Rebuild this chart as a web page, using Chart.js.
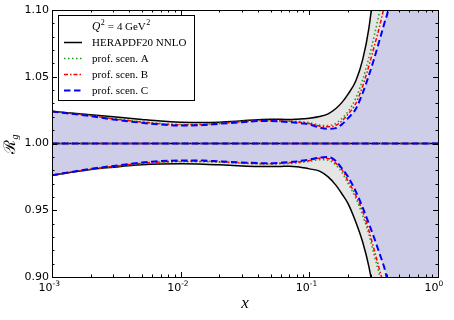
<!DOCTYPE html>
<html>
<head>
<meta charset="utf-8">
<script src="https://cdn.jsdelivr.net/npm/chart.js@4"></script>
<style>
  html, body { margin: 0; padding: 0; background: #fff; }
</style>
</head>
<body>
<canvas id="chart" width="454" height="320"></canvas>
<script>
// x grid shared by all the ratio curves
const xs = [0.001, 0.002, 0.003, 0.005, 0.007, 0.01, 0.015, 0.02, 0.03, 0.04,
  0.05, 0.06, 0.07, 0.08, 0.09, 0.1, 0.12, 0.14, 0.16, 0.18,
  0.2, 0.23, 0.26, 0.29, 0.32, 0.35, 0.38, 0.42, 0.5, 1.0];

// HERAPDF20 NNLO band edges
const heraUp = [1.0242, 1.0215, 1.020, 1.018, 1.0168, 1.016, 1.0157, 1.016, 1.017, 1.0178,
  1.0181, 1.0181, 1.018, 1.0182, 1.0185, 1.0189, 1.0202, 1.0222, 1.026, 1.031,
  1.037, 1.047, 1.063, 1.086, 1.12, 1.16, 1.21, 1.29, 1.5, 3.0];
const heraLo = [0.9762, 0.9805, 0.9822, 0.984, 0.9846, 0.9848, 0.9845, 0.984, 0.9832, 0.9828,
  0.9827, 0.9828, 0.983, 0.9826, 0.9818, 0.981, 0.9793, 0.975, 0.969, 0.962,
  0.955, 0.941, 0.926, 0.908, 0.885, 0.86, 0.83, 0.78, 0.6, -1.0];

// profiled scenarios
const scenAUp = [1.0242, 1.021, 1.0188, 1.0163, 1.015, 1.0143, 1.0145, 1.0153, 1.0165, 1.0172,
  1.0173, 1.0172, 1.017, 1.0166, 1.0162, 1.0156, 1.0138, 1.0135, 1.015, 1.019,
  1.024, 1.034, 1.048, 1.064, 1.081, 1.098, 1.115, 1.15, 1.3, 3.0];
const scenALo = [0.9762, 0.9805, 0.9825, 0.9848, 0.9858, 0.9863, 0.9863, 0.986, 0.9852, 0.9847,
  0.9846, 0.9848, 0.985, 0.9855, 0.986, 0.9866, 0.9878, 0.9875, 0.984, 0.978,
  0.970, 0.959, 0.946, 0.932, 0.916, 0.902, 0.889, 0.87, 0.83, -1.0];
const scenBUp = [1.024, 1.0208, 1.0185, 1.016, 1.0147, 1.014, 1.0142, 1.015, 1.0163, 1.017,
  1.0171, 1.0169, 1.0166, 1.0161, 1.0156, 1.015, 1.013, 1.0125, 1.0135, 1.017,
  1.022, 1.030, 1.043, 1.058, 1.073, 1.087, 1.102, 1.125, 1.25, 3.0];
const scenBLo = [0.9762, 0.9807, 0.9828, 0.9852, 0.9862, 0.9867, 0.9867, 0.9863, 0.9855, 0.985,
  0.9849, 0.9852, 0.9855, 0.986, 0.9866, 0.9872, 0.989, 0.9888, 0.9855, 0.980,
  0.972, 0.961, 0.949, 0.935, 0.920, 0.906, 0.893, 0.875, 0.84, -1.0];
const scenCUp = [1.024, 1.0205, 1.018, 1.0155, 1.0142, 1.0135, 1.0138, 1.0148, 1.016, 1.0168,
  1.0168, 1.0165, 1.016, 1.0155, 1.015, 1.0143, 1.012, 1.011, 1.0115, 1.0145,
  1.019, 1.026, 1.038, 1.051, 1.064, 1.077, 1.089, 1.107, 1.2, 3.0];
const scenCLo = [0.9762, 0.981, 0.9832, 0.9857, 0.9868, 0.9873, 0.9872, 0.9866, 0.9858, 0.9853,
  0.9852, 0.9856, 0.986, 0.9866, 0.9873, 0.988, 0.9895, 0.9898, 0.987, 0.981,
  0.975, 0.964, 0.952, 0.940, 0.929, 0.918, 0.908, 0.893, 0.86, -1.0];

// central values (ratio to itself)
const centreX = [0.001, 1];
const centreY = [1, 1];

const seriesNames = ["HERAPDF20 NNLO", "prof. scen. A", "prof. scen. B", "prof. scen. C"];
const xMajor = [0.001, 0.01, 0.1, 1];
const xExp = ["-3", "-2", "-1", "0"];

const pts = (xv, yv) => xv.map((x, i) => ({ x: x, y: yv[i] }));

const GRAY = "rgb(229,229,229)";
const LAVENDER = "rgb(206,206,233)";
const SERIF = '"Liberation Serif", "DejaVu Serif", serif';

const styles = [
  { color: "#000000", width: 1.5, dash: [] },
  { color: "#1f9a1f", width: 1.5, dash: [1.5, 2.5] },
  { color: "#ff0000", width: 1.5, dash: [4, 2, 1.5, 2] },
  { color: "#0000ff", width: 2, dash: [6.5, 3.5] },
];

const bands = [[heraUp, heraLo], [scenAUp, scenALo], [scenBUp, scenBLo], [scenCUp, scenCLo]];

const datasets = [
  // fills (0,1 gray band; 2,3 lavender band)
  { data: pts(xs, heraUp), fill: { target: 1 }, backgroundColor: GRAY, borderWidth: 0, order: 100 },
  { data: pts(xs, heraLo), fill: false, borderWidth: 0, order: 100 },
  { data: pts(xs, scenCUp), fill: { target: 3 }, backgroundColor: LAVENDER, borderWidth: 0, order: 90 },
  { data: pts(xs, scenCLo), fill: false, borderWidth: 0, order: 90 },
];

bands.forEach((b, i) => {
  const s = styles[i];
  const common = { borderColor: s.color, borderWidth: s.width, borderDash: s.dash, fill: false, order: 10 - i };
  datasets.push(Object.assign({ label: seriesNames[i], data: pts(xs, b[0]) }, common));
  datasets.push(Object.assign({ data: pts(xs, b[1]) }, common));
  datasets.push(Object.assign({ data: pts(centreX, centreY) }, common));
});

const decor = {
  id: "decor",
  afterDraw(chart) {
    const { ctx, chartArea: a } = chart;
    const sx = chart.scales.x, sy = chart.scales.y;
    ctx.save();
    ctx.strokeStyle = "#000";
    ctx.lineWidth = 1;
    ctx.setLineDash([]);

    // x ticks, inward, top and bottom
    ctx.beginPath();
    for (let e = -3; e <= 0; e++) {
      for (let k = 1; k <= 9; k++) {
        const v = k * Math.pow(10, e);
        if (v > 1.0001) break;
        const px = Math.round(sx.getPixelForValue(v)) + 0.5;
        const len = k === 1 ? 5 : 2.5;
        ctx.moveTo(px, a.bottom); ctx.lineTo(px, a.bottom - len);
        ctx.moveTo(px, a.top); ctx.lineTo(px, a.top + len);
      }
    }
    // y ticks, inward, left and right
    for (let i = 0; i <= 20; i++) {
      const v = 0.9 + i * 0.01;
      const py = Math.round(sy.getPixelForValue(v)) + 0.5;
      const len = i % 5 === 0 ? 5 : 2.5;
      ctx.moveTo(a.left, py); ctx.lineTo(a.left + len, py);
      ctx.moveTo(a.right, py); ctx.lineTo(a.right - len, py);
    }
    ctx.stroke();

    // frame
    ctx.strokeRect(a.left + 0.5, a.top + 0.5, a.right - a.left, a.bottom - a.top);

    // x tick labels 10^n
    ctx.fillStyle = "#000";
    ctx.textBaseline = "alphabetic";
    xMajor.forEach((v, i) => {
      const px = sx.getPixelForValue(v);
      ctx.font = '11px "DejaVu Sans"';
      ctx.textAlign = "right";
      ctx.fillText("10", px + 0.5, 291);
      ctx.font = '7.5px "DejaVu Sans"';
      ctx.textAlign = "left";
      ctx.fillText(xExp[i], px + 0.5, 285.5);
    });

    // axis titles
    ctx.font = "italic 17px " + SERIF;
    ctx.textAlign = "center";
    ctx.textBaseline = "middle";
    ctx.fillText("x", (a.left + a.right) / 2, 304);

    ctx.save();
    ctx.translate(15, 144);
    ctx.rotate(-Math.PI / 2);
    ctx.textBaseline = "alphabetic";
    ctx.textAlign = "left";
    ctx.font = '16px "DejaVu Serif"';
    const wR = ctx.measureText("ℛ").width;
    ctx.font = "italic 10px " + SERIF;
    const wg = ctx.measureText("g").width;
    const x0 = -(wR + wg) / 2;
    ctx.font = '16px "DejaVu Serif"';
    ctx.fillText("ℛ", x0, 0);
    ctx.font = "italic 10px " + SERIF;
    ctx.fillText("g", x0 + wR, 3);
    ctx.restore();

    // legend
    const lx = 58.5, ly = 15.5, lw = 136, lh = 85;
    ctx.fillStyle = "#fff";
    ctx.fillRect(lx, ly, lw, lh);
    ctx.strokeStyle = "#000";
    ctx.lineWidth = 1;
    ctx.strokeRect(lx, ly, lw, lh);

    // title Q^2 = 4 GeV^2, placed piece by piece
    ctx.fillStyle = "#000";
    ctx.textAlign = "left";
    ctx.textBaseline = "alphabetic";
    const tb = 29.5;
    let tx = 92;
    const put = (txt, font, dy, gap) => {
      ctx.font = font;
      ctx.fillText(txt, tx, tb + dy);
      tx += ctx.measureText(txt).width + gap;
    };
    put("Q", "italic 11.5px " + SERIF, 0, 0.5);
    put("2", "8px " + SERIF, -5, 3);
    put("=", "11px " + SERIF, 0, 3);
    put("4", "11px " + SERIF, 0, 2.5);
    put("GeV", "11px " + SERIF, 0, 0.5);
    put("2", "8px " + SERIF, -5, 0);

    ctx.font = "11px " + SERIF;
    ctx.textBaseline = "middle";
    seriesNames.forEach((name, i) => {
      const s = styles[i];
      const y = 42.5 + i * 16;
      ctx.beginPath();
      ctx.strokeStyle = s.color;
      ctx.lineWidth = s.width;
      ctx.setLineDash(s.dash);
      ctx.moveTo(64, y);
      ctx.lineTo(82, y);
      ctx.stroke();
      ctx.setLineDash([]);
      ctx.fillText(name, 92, y + 0.5);
    });
    ctx.restore();
  },
};

new Chart(document.getElementById("chart"), {
  type: "line",
  data: { datasets: datasets },
  options: {
    responsive: false,
    animation: false,
    devicePixelRatio: 1,
    layout: { padding: { top: 10, right: 16, left: 0, bottom: 0 } },
    elements: {
      point: { radius: 0, hoverRadius: 0 },
      line: { cubicInterpolationMode: "monotone" },
    },
    plugins: {
      legend: { display: false },
      tooltip: { enabled: false },
    },
    scales: {
      x: {
        type: "logarithmic",
        min: 0.001,
        max: 1,
        grid: { display: false },
        border: { display: false },
        ticks: { display: false },
        afterFit(scale) { scale.height = 43; },
      },
      y: {
        type: "linear",
        min: 0.9,
        max: 1.1,
        grid: { display: false, drawTicks: false },
        border: { display: false },
        ticks: {
          stepSize: 0.05,
          padding: 3,
          color: "#000",
          font: { family: "DejaVu Sans", size: 11 },
          callback: (v) => v.toFixed(2),
        },
        afterFit(scale) { scale.width = 52; },
      },
    },
  },
  plugins: [decor],
});
</script>
</body>
</html>
